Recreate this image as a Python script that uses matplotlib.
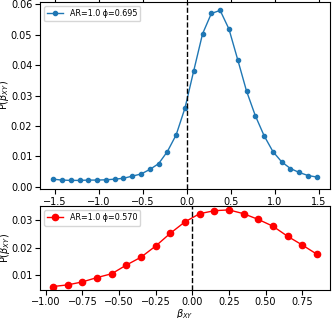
import matplotlib.pyplot as plt

# upper panel: AR=1.0, phi=0.695
beta_top = [-1.52, -1.42, -1.32, -1.22, -1.12, -1.02, -0.92, -0.82, -0.72, -0.62,
            -0.52, -0.42, -0.32, -0.22, -0.12, -0.02, 0.08, 0.18, 0.28, 0.38,
            0.48, 0.58, 0.68, 0.78, 0.88, 0.98, 1.08, 1.18, 1.28, 1.38, 1.48]
p_top = [0.0025, 0.0022, 0.0021, 0.0021, 0.0022, 0.0022, 0.0023, 0.0025, 0.0028, 0.0035,
         0.0042, 0.0057, 0.0076, 0.0116, 0.0171, 0.0259, 0.0382, 0.0503, 0.0570, 0.0580,
         0.0519, 0.0418, 0.0315, 0.0234, 0.0168, 0.0116, 0.0082, 0.0060, 0.0047, 0.0037,
         0.0032]

# lower panel: AR=1.0, phi=0.570
beta_bot = [-0.95, -0.85, -0.75, -0.65, -0.55, -0.45, -0.35, -0.25, -0.15, -0.05,
            0.05, 0.15, 0.25, 0.35, 0.45, 0.55, 0.65, 0.75, 0.85]
p_bot = [0.0057, 0.0063, 0.0074, 0.0090, 0.0104, 0.0136, 0.0165, 0.0206, 0.0253, 0.0295,
         0.0325, 0.0336, 0.0339, 0.0325, 0.0304, 0.0279, 0.0242, 0.0210, 0.0176]

fig = plt.figure(figsize=(3.33, 3.18), dpi=100)
ax1 = fig.add_axes([0.120, 0.406, 0.871, 0.588])
ax2 = fig.add_axes([0.120, 0.087, 0.871, 0.265])

ax1.plot(beta_top, p_top, '-o', color='tab:blue', ms=3, lw=1, label='AR=1.0 ϕ=0.695')
ax1.axvline(0, color='k', ls='--', lw=1)
ax1.set_ylabel(r'P($\beta_{XY}$)', fontsize=7, labelpad=0)
ax1.legend(loc='upper left', fontsize=5.8)
ax1.tick_params(labelsize=7, top=True, pad=2)

ax2.plot(beta_bot, p_bot, '-o', color='red', ms=4.5, lw=1, label='AR=1.0 ϕ=0.570')
ax2.axvline(0, color='k', ls='--', lw=1)
ax2.set_ylabel(r'P($\beta_{XY}$)', fontsize=7, labelpad=0)
ax2.set_xlabel(r'$\beta_{XY}$', fontsize=7, labelpad=0)
ax2.legend(loc='upper left', fontsize=5.8)
ax2.tick_params(labelsize=7, pad=1.5)

fig.savefig('out.png', dpi=100)
